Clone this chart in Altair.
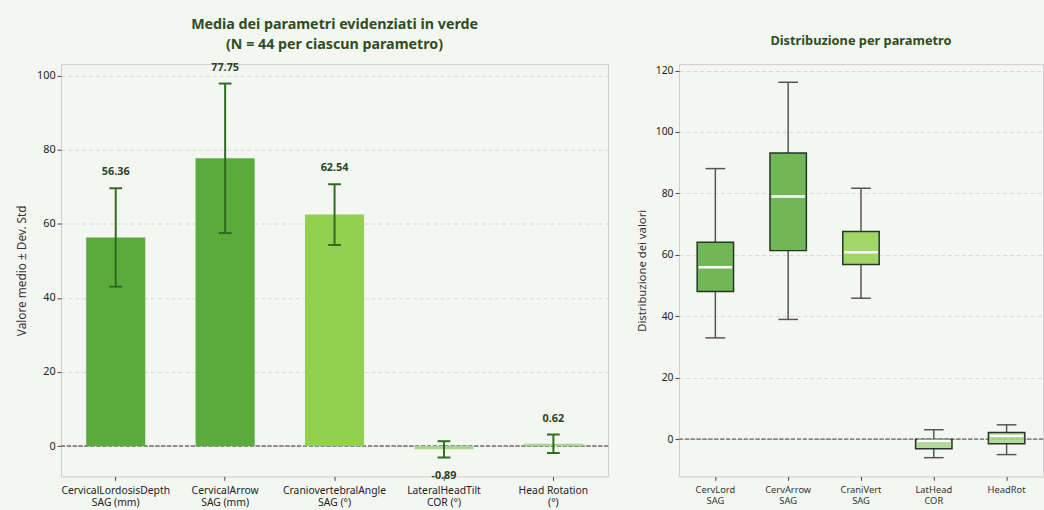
import altair as alt
import pandas as pd

# ---------------- data ----------------
bar_labels = ["CervicalLordosisDepth\nSAG (mm)", "CervicalArrow\nSAG (mm)",
              "CraniovertebralAngle\nSAG (°)", "LateralHeadTilt\nCOR (°)", "Head Rotation\n(°)"]
bar_means = [56.36, 77.75, 62.54, -0.89, 0.62]
bar_stds = [13.3, 20.2, 8.2, 2.2, 2.5]
bar_colors = ["#5aab3c", "#5aab3c", "#92d050", "#a8d48c", "#a8d48c"]

box_labels = ["CervLord\nSAG", "CervArrow\nSAG", "CraniVert\nSAG", "LatHead\nCOR", "HeadRot"]
box_min = [33.0, 39.0, 45.9, -6.0, -5.0]
box_q1 = [48.1, 61.4, 56.9, -3.1, -1.5]
box_median = [56.0, 79.0, 60.9, -0.5, 1.1]
box_q3 = [64.1, 93.2, 67.6, -0.1, 2.2]
box_max = [88.1, 116.2, 81.7, 3.1, 4.7]
box_colors = ["#5aab3c", "#5aab3c", "#92d050", "#a8d48c", "#a8d48c"]

FONT = "Noto Sans"
BG = "#f4f7f1"
TITLE_COLOR = "#2e4d1f"
ERR_COLOR = "#2e6b20"

# ---------------- left panel ----------------
bdf = pd.DataFrame({"param": bar_labels, "mean": bar_means, "std": bar_stds})
bdf["lo"] = bdf["mean"] - bdf["std"]
bdf["hi"] = bdf["mean"] + bdf["std"]
bdf["label"] = [f"{m:.2f}" for m in bar_means]

xl_scale = alt.Scale(domain=bar_labels, paddingInner=0.46, paddingOuter=0.23)
xl_axis = alt.Axis(title=None, labelAngle=0, labelExpr="split(datum.label, '\\n')",
                   labelAlign="center", labelFontSize=10.5, labelColor="#222222",
                   tickColor="#444444", tickSize=4, labelPadding=5, domain=False,
                   grid=False, labelLineHeight=13, labelOverlap=False, labelFlush=False)
yl_scale = alt.Scale(domain=[-8.2, 103.2], nice=False, zero=False)
yl_axis = alt.Axis(title="Valore medio ± Dev. Std", values=[0, 20, 40, 60, 80, 100],
                   titleFontSize=12, titleFontWeight="normal", titleColor="#333333",
                   labelFontSize=11, labelColor="#222222", tickColor="#444444",
                   tickSize=4, domain=False, titlePadding=8, grid=True)


def XL():
    return alt.X("param:N", scale=xl_scale, axis=xl_axis, sort=bar_labels)


def YL(field):
    return alt.Y(field, type="quantitative", scale=yl_scale, axis=yl_axis)


color_l = alt.Color("param:N", scale=alt.Scale(domain=bar_labels, range=bar_colors), legend=None)

base_l = alt.Chart(bdf)
zero_l = base_l.transform_calculate(z="0").mark_rule(
    color="#8a8a8a", strokeDash=[4, 2], strokeWidth=1
).encode(y=YL("z"), x=alt.value(0), x2=alt.value(556))

bars = base_l.mark_bar().encode(x=XL(), y=YL("mean"), y2=alt.datum(0), color=color_l)
err = base_l.mark_rule(color=ERR_COLOR, strokeWidth=2).encode(x=XL(), y=YL("lo"), y2="hi:Q")
cap_lo = base_l.mark_tick(color=ERR_COLOR, thickness=2, size=13, opacity=1).encode(x=XL(), y=YL("lo"))
cap_hi = base_l.mark_tick(color=ERR_COLOR, thickness=2, size=13, opacity=1).encode(x=XL(), y=YL("hi"))
txt_pos = base_l.transform_filter("datum.mean >= 0").mark_text(
    dy=-16, font=FONT, fontSize=11, fontWeight="bold", color="#2c4420"
).encode(x=XL(), y=YL("hi"), text="label:N")
txt_neg = base_l.transform_filter("datum.mean < 0").mark_text(
    dy=19, font=FONT, fontSize=11, fontWeight="bold", color="#2c4420"
).encode(x=XL(), y=YL("lo"), text="label:N")

left = alt.layer(zero_l, bars, err, cap_lo, cap_hi, txt_pos, txt_neg).properties(
    width=556, height=419,
    title=alt.TitleParams(
        text=["Media dei parametri evidenziati in verde", "(N = 44 per ciascun parametro)"],
        fontSize=14.5, fontWeight="bold", color=TITLE_COLOR, font=FONT,
        anchor="middle", offset=10, lineHeight=20),
)

# ---------------- right panel ----------------
xdf = pd.DataFrame({"param": box_labels, "mn": box_min, "q1": box_q1, "med": box_median,
                    "q3": box_q3, "mx": box_max})
xr_scale = alt.Scale(domain=box_labels, paddingInner=0.5, paddingOuter=0.25)
xr_axis = alt.Axis(title=None, labelAngle=0, labelExpr="split(datum.label, '\\n')",
                   labelAlign="center", labelFontSize=9.5, labelColor="#333333",
                   tickColor="#444444", tickSize=4, labelPadding=4, domain=False,
                   grid=False, labelLineHeight=12, labelOverlap=False, labelFlush=False)
yr_scale = alt.Scale(domain=[-12.1, 122.1], nice=False, zero=False)
yr_axis = alt.Axis(title="Distribuzione dei valori", values=[0, 20, 40, 60, 80, 100, 120],
                   titleFontSize=11.5, titleFontWeight="normal", titleColor="#333333",
                   labelFontSize=10.5, labelColor="#222222", tickColor="#444444",
                   tickSize=4, domain=False, titlePadding=8, grid=True)


def XR():
    return alt.X("param:N", scale=xr_scale, axis=xr_axis, sort=box_labels)


def YR(field):
    return alt.Y(field, type="quantitative", scale=yr_scale, axis=yr_axis)


color_r = alt.Color("param:N", scale=alt.Scale(domain=box_labels, range=box_colors), legend=None)
base_r = alt.Chart(xdf)

zero_r = base_r.transform_calculate(z="0").mark_rule(
    color="#8a8a8a", strokeDash=[4, 2], strokeWidth=1
).encode(y=YR("z"), x=alt.value(0), x2=alt.value(370))
wh_lo = base_r.mark_rule(color="#555555", strokeWidth=1.5).encode(x=XR(), y=YR("mn"), y2="q1:Q")
wh_hi = base_r.mark_rule(color="#555555", strokeWidth=1.5).encode(x=XR(), y=YR("q3"), y2="mx:Q")
cap_mn = base_r.mark_tick(color="#555555", thickness=1.5, size=20, opacity=1).encode(x=XR(), y=YR("mn"))
cap_mx = base_r.mark_tick(color="#555555", thickness=1.5, size=20, opacity=1).encode(x=XR(), y=YR("mx"))
boxes = base_r.mark_bar(stroke="#263626", strokeWidth=1.5, fillOpacity=0.85).encode(
    x=XR(), y=YR("q1"), y2="q3:Q", color=color_r)
med = base_r.mark_tick(color="white", thickness=2.5, size=34, opacity=1).encode(x=XR(), y=YR("med"))

right = alt.layer(zero_r, wh_lo, wh_hi, cap_mn, cap_mx, boxes, med).properties(
    width=370, height=419,
    title=alt.TitleParams(text="Distribuzione per parametro", fontSize=13, fontWeight="bold",
                          color=TITLE_COLOR, font=FONT, anchor="middle", offset=16),
)

chart = alt.HConcatChart(hconcat=[left, right], spacing=72, bounds="flush").properties(
    background=BG,
    padding={"left": 15, "top": 12, "right": 0, "bottom": 0},
).configure_view(
    stroke="#cccccc", strokeWidth=1, fill=BG
).configure_axis(
    gridColor="#d0d0d0", gridDash=[4, 3], gridWidth=0.8, labelFont=FONT, titleFont=FONT
).configure_title(font=FONT)

chart.save("out.html", embed_options={"renderer": "svg", "actions": False})
